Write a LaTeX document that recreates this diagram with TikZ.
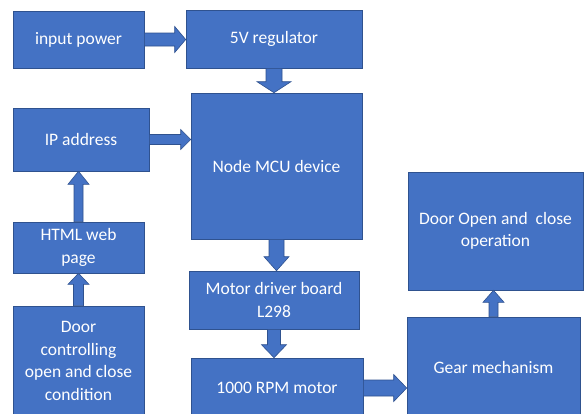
\documentclass[tikz,border=0pt]{standalone}
\usepackage{fontspec}
\setmainfont{Carlito}
\usetikzlibrary{calc}
\definecolor{boxblue}{HTML}{4472C4}
\definecolor{edgeblue}{HTML}{2F528F}
\tikzset{
  box/.style={draw=edgeblue, line width=0.6pt, fill=boxblue, text=white, align=center,
    font=\fontsize{17.5}{22.5}\selectfont, inner sep=0pt},
  arr/.style={draw=edgeblue, line width=0.6pt, fill=boxblue, line join=miter}
}
% #1 source, #2 target, #3 shaft half width, #4 head half width, #5 head length
\newcommand{\arrright}[5]{\draw[arr] let \p1=(#1.east), \p2=(#2.west) in
  (\x1,\y1+#3) -- (\x2-#5,\y1+#3) -- (\x2-#5,\y1+#4) -- (\x2,\y1) -- (\x2-#5,\y1-#4)
  -- (\x2-#5,\y1-#3) -- (\x1,\y1-#3) -- cycle;}
\newcommand{\arrdown}[5]{\draw[arr] let \p1=(#1.south), \p2=(#2.north) in
  (\x1-#3,\y1) -- (\x1-#3,\y2+#5) -- (\x1-#4,\y2+#5) -- (\x1,\y2) -- (\x1+#4,\y2+#5)
  -- (\x1+#3,\y2+#5) -- (\x1+#3,\y1) -- cycle;}
\newcommand{\arrup}[5]{\draw[arr] let \p1=(#1.north), \p2=(#2.south) in
  (\x1-#3,\y1) -- (\x1-#3,\y2-#5) -- (\x1-#4,\y2-#5) -- (\x1,\y2) -- (\x1+#4,\y2-#5)
  -- (\x1+#3,\y2-#5) -- (\x1+#3,\y1) -- cycle;}
\begin{document}
\begin{tikzpicture}[x=1pt,y=-1pt]
\fill[white] (0,0) rectangle (584,413);
\useasboundingbox (0,0) rectangle (584,413);
\node[box, minimum width=131pt, minimum height=57pt] (inp) at (78.5,39.5) {input power};
\node[box, minimum width=176pt, minimum height=58pt] (reg) at (274,39) {5V regulator};
\node[box, minimum width=171pt, minimum height=146pt] (mcu) at (276.5,166) {Node MCU device};
\node[box, minimum width=136pt, minimum height=63pt] (ip) at (81,139.5) {IP address};
\node[box, minimum width=131pt, minimum height=51pt] (html) at (78.5,247.5) {HTML web\\page};
\node[box, minimum width=131pt, minimum height=110pt] (cond) at (78.5,361) {Door\\controlling\\open and close\\condition};
\node[box, minimum width=170pt, minimum height=58pt] (drv) at (274,300) {Motor driver board\\L298};
\node[box, minimum width=172pt, minimum height=60pt] (rpm) at (277,388) {1000 RPM motor};
\node[box, minimum width=173pt, minimum height=100pt] (gear) at (493.5,367) {Gear mechanism};
\node[box, minimum width=175pt, minimum height=118pt] (door) at (495.5,231) {Door Open and\ \ close\\operation};
\arrright{inp}{reg}{6.5pt}{13pt}{11pt}
\arrright{ip}{mcu}{5pt}{10pt}{10pt}
\arrright{rpm}{gear}{8pt}{13.5pt}{13pt}
\arrdown{reg}{mcu}{8pt}{17pt}{11pt}
\arrdown{mcu}{drv}{7.5pt}{12.5pt}{14pt}
\arrdown{drv}{rpm}{6.5pt}{12.5pt}{13pt}
\arrup{cond}{html}{5pt}{10.5pt}{11pt}
\arrup{html}{ip}{4.5pt}{10.5pt}{13pt}
\arrup{gear}{door}{4.5pt}{10.5pt}{12pt}
\end{tikzpicture}
\end{document}
